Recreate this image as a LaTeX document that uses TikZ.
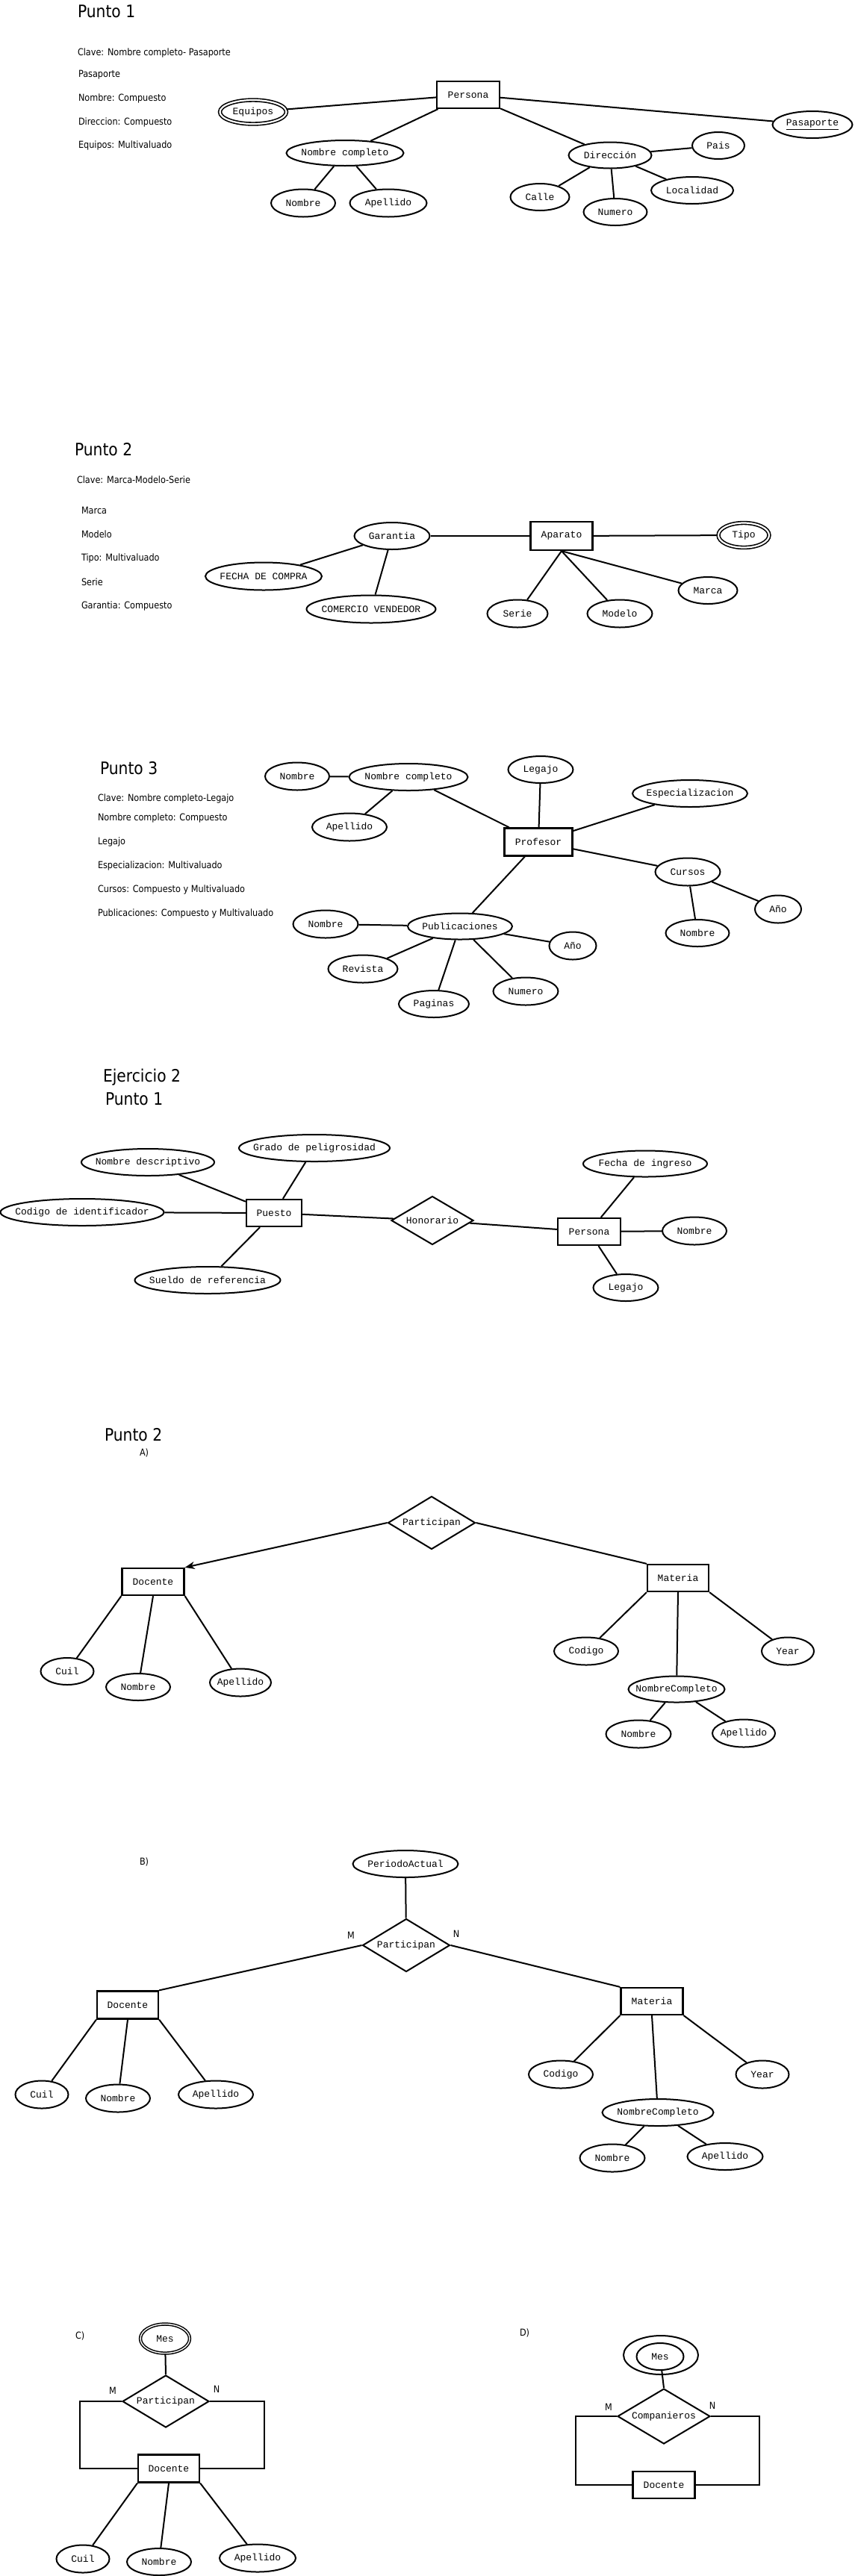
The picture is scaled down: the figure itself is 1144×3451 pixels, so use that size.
\documentclass[tikz,border=0pt]{standalone}
\usepackage{fontspec}
\setmainfont{DejaVu Sans}[FakeStretch=0.88]
\setmonofont{Liberation Mono}
\usepackage{tikz}
\usetikzlibrary{arrows,arrows.meta,shapes.geometric}

\begin{document}
\begin{tikzpicture}[
    x=1pt,
    y=-1pt,
    >={Stealth[length=13pt,width=10pt,inset=4pt]},
    line width=2pt,
    entity/.style={
		rectangle,
		draw=black,
		line width=2.3pt,
		font=\ttfamily\fontsize{13}{15}\selectfont,
		inner sep=0pt,
		minimum width=83pt,
		minimum height=37pt,
		fill=white
	},
    attrib/.style={
		ellipse,
		draw=black,
		font=\ttfamily\fontsize{13}{15}\selectfont,
		inner xsep=-20pt,
		inner ysep=0pt,
		minimum width=86pt,
		minimum height=37pt,
		fill=white
	},
    multi/.style={
		attrib,
		double,
		line width=1.6pt,
		double distance=2.2pt
	},
    rel/.style={
		diamond,
		draw=black,
		aspect=1.65,
		font=\ttfamily\fontsize{13}{15}\selectfont,
		inner sep=0pt,
		minimum width=117pt,
		minimum height=71pt,
		fill=white
	},
    note/.style={
		anchor=west,
		inner sep=0pt,
		font=\fontsize{12.8}{15}\selectfont
	},
    card/.style={
		inner sep=0pt,
		font=\fontsize{12.8}{15}\selectfont
	},
    heading/.style={
		anchor=west,
		inner sep=0pt,
		font=\fontsize{23}{27}\selectfont
	}
  ]

\useasboundingbox (0,0) rectangle (1144,3451);

% // Punto 1
\node [heading] (titulo1) at (103,15) {Punto 1};
\node [note] (nota11) at (103,71) {Clave: Nombre completo- Pasaporte};
\node [note] (nota12) at (104,100) {Pasaporte};
\node [note] (nota13) at (104,132) {Nombre: Compuesto};
\node [note] (nota14) at (104,164) {Direccion: Compuesto};
\node [note] (nota15) at (104,195) {Equipos: Multivaluado};

\node [entity, minimum width=84pt, minimum height=36pt] (persona1) at (627,127) {Persona};
\node [multi, minimum width=89pt, minimum height=32pt] (equipos1) at (339,150) {Equipos};
\node [attrib, minimum width=107pt, minimum height=36pt] (pasaporte1) at (1088,167) {\underline{Pasaporte}};
\node [attrib, minimum width=157pt, minimum height=34pt] (nomcomp1) at (462,205) {Nombre completo};
\node [attrib, minimum width=111pt, minimum height=35pt] (direccion1) at (817,208) {Dirección};
\node [attrib, minimum width=70pt, minimum height=36pt] (pais1) at (962,195) {Pais};
\node [attrib] (nombre1) at (406,272) {Nombre};
\node [attrib, minimum width=103pt] (apellido1) at (520,272) {Apellido};
\node [attrib, minimum width=79pt, minimum height=36pt] (calle1) at (723,264) {Calle};
\node [attrib, minimum width=85pt, minimum height=36pt] (numero1) at (824,284) {Numero};
\node [attrib, minimum width=110pt, minimum height=36pt] (localidad1) at (927,255) {Localidad};

\draw (persona1) -- (equipos1);
\draw (persona1) -- (pasaporte1);
\draw (persona1) -- (nomcomp1);
\draw (persona1) -- (direccion1);
\draw (nomcomp1) -- (nombre1);
\draw (nomcomp1) -- (apellido1);
\draw (direccion1) -- (calle1);
\draw (direccion1) -- (numero1);
\draw (direccion1) -- (localidad1);
\draw (direccion1) -- (pais1);

% // Punto 2
\node [heading] (titulo2) at (99,602) {Punto 2};
\node [note] (nota21) at (102,643) {Clave: Marca-Modelo-Serie};
\node [note] (nota22) at (108,684) {Marca};
\node [note] (nota23) at (108,716) {Modelo};
\node [note] (nota24) at (108,748) {Tipo: Multivaluado};
\node [note] (nota25) at (108,780) {Serie};
\node [note] (nota26) at (108,812) {Garantia: Compuesto};

\node [entity, minimum height=38pt] (aparato2) at (752,718) {Aparato};
\node [attrib, minimum width=101pt, minimum height=36pt] (garantia2) at (525,718) {Garantia};
\node [multi, minimum width=68pt, minimum height=33pt] (tipo2) at (996,717) {Tipo};
\node [attrib, minimum width=156pt] (fecha2) at (353,772) {FECHA DE COMPRA};
\node [attrib, minimum width=173pt] (comercio2) at (497,816) {COMERCIO VENDEDOR};
\node [attrib, minimum width=81pt] (serie2) at (693,822) {Serie};
\node [attrib, minimum width=87pt] (modelo2) at (830,822) {Modelo};
\node [attrib, minimum width=79pt, minimum height=36pt] (marca2) at (948,791) {Marca};

\draw (garantia2) -- (aparato2);
\draw (aparato2) -- (tipo2);
\draw (garantia2) -- (fecha2);
\draw (garantia2) -- (comercio2);
\draw (aparato2.south) -- (serie2);
\draw (aparato2.south) -- (modelo2);
\draw (aparato2.south) -- (marca2);

% // Punto 3
\node [heading] (titulo3) at (133,1029) {Punto 3};
\node [note] (nota31) at (130,1070) {Clave: Nombre completo-Legajo};
\node [note] (nota32) at (130,1096) {Nombre completo: Compuesto};
\node [note] (nota33) at (130,1128) {Legajo};
\node [note] (nota34) at (130,1160) {Especializacion: Multivaluado};
\node [note] (nota35) at (130,1192) {Cursos: Compuesto y Multivaluado};
\node [note] (nota36) at (130,1224) {Publicaciones: Compuesto y Multivaluado};

\node [entity, minimum width=91pt] (profesor3) at (721,1128) {Profesor};
\node [attrib] (nombre3) at (398,1040) {Nombre};
\node [attrib, minimum width=159pt, minimum height=36pt] (nomcomp3) at (547,1041) {Nombre completo};
\node [attrib, minimum width=100pt] (apellido3) at (468,1108) {Apellido};
\node [attrib, minimum width=87pt, minimum height=36pt] (legajo3) at (724,1031) {Legajo};
\node [attrib, minimum width=154pt, minimum height=36pt] (especial3) at (924,1063) {Especializacion};
\node [attrib, minimum width=87pt] (cursos3) at (921,1168) {Cursos};
\node [attrib, minimum width=62pt] (anio3) at (1042,1218) {Año};
\node [attrib, minimum width=85pt, minimum height=36pt] (nombrecur3) at (934,1250) {Nombre};
\node [attrib, minimum width=140pt, minimum height=35pt] (public3) at (616,1241) {Publicaciones};
\node [attrib, minimum width=87pt] (nombrepub3) at (436,1238) {Nombre};
\node [attrib, minimum width=63pt] (aniopub3) at (767,1267) {Año};
\node [attrib, minimum width=93pt] (revista3) at (486,1298) {Revista};
\node [attrib, minimum width=94pt, minimum height=36pt] (paginas3) at (581,1345) {Paginas};
\node [attrib, minimum width=87pt] (numero3) at (704,1328) {Numero};

\draw (nombre3) -- (nomcomp3);
\draw (nomcomp3) -- (apellido3);
\draw (nomcomp3) -- (profesor3);
\draw (legajo3) -- (profesor3);
\draw (especial3) -- (profesor3);
\draw (profesor3) -- (cursos3);
\draw (cursos3) -- (anio3);
\draw (cursos3) -- (nombrecur3);
\draw (profesor3) -- (public3);
\draw (public3) -- (nombrepub3);
\draw (public3) -- (revista3);
\draw (public3) -- (paginas3);
\draw (public3) -- (numero3);
\draw (public3) -- (aniopub3);

% // Ejercicio 2 - Punto 1
\node [heading] (titulo4) at (137,1443) {Ejercicio 2};
\node [heading] (titulo5) at (140,1472) {Punto 1};

\node [entity, minimum width=74pt, minimum height=36pt] (puesto4) at (367,1625) {Puesto};
\node [attrib, minimum width=178pt, minimum height=36pt] (nomdesc4) at (198,1557) {Nombre descriptivo};
\node [attrib, minimum width=202pt, minimum height=36pt] (grado4) at (421,1538) {Grado de peligrosidad};
\node [attrib, minimum width=219pt, minimum height=36pt] (codigo4) at (110,1624) {Codigo de identificador};
\node [attrib, minimum width=195pt, minimum height=36pt] (sueldo4) at (278,1715) {Sueldo de referencia};
\node [rel, minimum width=110pt, minimum height=65pt] (honorario4) at (579,1635) {Honorario};
\node [entity, minimum width=84pt, minimum height=36pt] (persona4) at (789,1650) {Persona};
\node [attrib, minimum width=166pt, minimum height=35pt] (fechaing4) at (864,1559) {Fecha de ingreso};
\node [attrib] (nombre4) at (930,1649) {Nombre};
\node [attrib, minimum width=87pt, minimum height=36pt] (legajo4) at (838,1725) {Legajo};

\draw (nomdesc4) -- (puesto4);
\draw (grado4) -- (puesto4);
\draw (codigo4) -- (puesto4);
\draw (sueldo4) -- (puesto4);
\draw (puesto4) -- (honorario4);
\draw (honorario4) -- (persona4);
\draw (fechaing4) -- (persona4);
\draw (persona4) -- (nombre4);
\draw (persona4) -- (legajo4);

% // Punto 2 A)
\node [heading] (titulo6) at (139,1922) {Punto 2};
\node [note] (notaA) at (186,1946) {A)};

\node [rel] (particA) at (578,2040) {Participan};
\node [entity, minimum height=36pt] (docenteA) at (205,2119) {Docente};
\node [entity, minimum width=82pt, minimum height=36pt] (materiaA) at (908,2114) {Materia};
\node [attrib, minimum width=71pt, minimum height=36pt] (cuilA) at (90,2239) {Cuil};
\node [attrib, minimum height=36pt] (nombreA) at (185,2260) {Nombre};
\node [attrib, minimum width=82pt] (apellidoA) at (322,2254) {Apellido};
\node [attrib] (codigoA) at (785,2212) {Codigo};
\node [attrib, minimum width=70pt] (yearA) at (1055,2212) {Year};
\node [attrib, minimum width=129pt, minimum height=35pt] (nomcompA) at (906,2263) {NombreCompleto};
\node [attrib, minimum width=87pt] (nombreA2) at (855,2323) {Nombre};
\node [attrib, minimum width=84pt] (apellidoA2) at (996,2322) {Apellido};

\draw [->] (particA.west) -- (docenteA.north east);
\draw (particA.east) -- (materiaA.north west);
\draw (docenteA.south west) -- (cuilA);
\draw (docenteA.south) -- (nombreA);
\draw (docenteA.south east) -- (apellidoA);
\draw (materiaA.south west) -- (codigoA);
\draw (materiaA.south) -- (nomcompA);
\draw (materiaA.south east) -- (yearA);
\draw (nomcompA) -- (nombreA2);
\draw (nomcompA) -- (apellidoA2);

% // Punto 2 B)
\node [note] (notaB) at (186,2494) {B)};

\node [attrib, minimum width=141pt, minimum height=36pt] (periodoB) at (543,2497) {PeriodoActual};
\node [rel] (particB) at (544,2606) {Participan};
\node [card] (cardMB) at (470,2593) {M};
\node [card] (cardNB) at (611,2591) {N};
\node [entity, minimum width=82pt] (docenteB) at (171,2686) {Docente};
\node [entity, minimum height=36pt] (materiaB) at (873,2681) {Materia};
\node [attrib, minimum width=71pt] (cuilB) at (56,2806) {Cuil};
\node [attrib] (nombreB) at (158,2811) {Nombre};
\node [attrib, minimum width=100pt] (apellidoB) at (289,2806) {Apellido};
\node [attrib] (codigoB) at (751,2779) {Codigo};
\node [attrib, minimum width=71pt] (yearB) at (1021,2779) {Year};
\node [attrib, minimum width=149pt, minimum height=36pt] (nomcompB) at (881,2830) {NombreCompleto};
\node [attrib, minimum width=87pt] (nombreB2) at (820,2891) {Nombre};
\node [attrib, minimum width=101pt, minimum height=36pt] (apellidoB2) at (971,2889) {Apellido};

\draw (periodoB) -- (particB);
\draw (particB.west) -- (docenteB.north east);
\draw (particB.east) -- (materiaB.north west);
\draw (docenteB.south west) -- (cuilB);
\draw (docenteB.south) -- (nombreB);
\draw (docenteB.south east) -- (apellidoB);
\draw (materiaB.south west) -- (codigoB);
\draw (materiaB.south) -- (nomcompB);
\draw (materiaB.south east) -- (yearB);
\draw (nomcompB) -- (nombreB2);
\draw (nomcompB) -- (apellidoB2);

% // C)
\node [note] (notaC) at (100,3129) {C)};

\node [multi, minimum width=66pt, minimum height=39pt, line width=1.5pt, double distance=1.4pt] (mesC) at (221,3133) {Mes};
\node [rel, minimum width=116pt, minimum height=70pt] (particC) at (222,3217) {Participan};
\node [card] (cardMC) at (151,3203) {M};
\node [card] (cardNC) at (290,3201) {N};
\node [entity, minimum width=82pt] (docenteC) at (226,3307) {Docente};
\node [attrib, minimum width=71pt] (cuilC) at (111,3428) {Cuil};
\node [attrib, minimum height=36pt] (nombreC) at (213,3432) {Nombre};
\node [attrib, minimum width=102pt] (apellidoC) at (345,3427) {Apellido};

\draw (mesC) -- (particC.north);
\draw (particC.west) -- ++(-56,0) |- (docenteC.west);
\draw (particC.east) -- ++(73,0) |- (docenteC.east);
\draw (docenteC.south west) -- (cuilC);
\draw (docenteC.south) -- (nombreC);
\draw (docenteC.south east) -- (apellidoC);

% // D)
\node [note] (notaD) at (695,3125) {D)};

\node [attrib, minimum width=100pt, minimum height=52pt] (anilloD) at (885,3155) {};
\node [attrib, minimum width=63pt, minimum height=36pt] (mesD) at (884,3157) {Mes};
\node [rel, minimum width=124pt, minimum height=74pt] (companD) at (889,3237) {Companieros};
\node [card] (cardMD) at (815,3225) {M};
\node [card] (cardND) at (954,3223) {N};
\node [entity, minimum height=36pt] (docenteD) at (889,3329) {Docente};

\draw (mesD) -- (companD.north);
\draw (companD.west) -- ++(-55,0) |- (docenteD.west);
\draw (companD.east) -- ++(65,0) |- (docenteD.east);

\end{tikzpicture}
\end{document}
